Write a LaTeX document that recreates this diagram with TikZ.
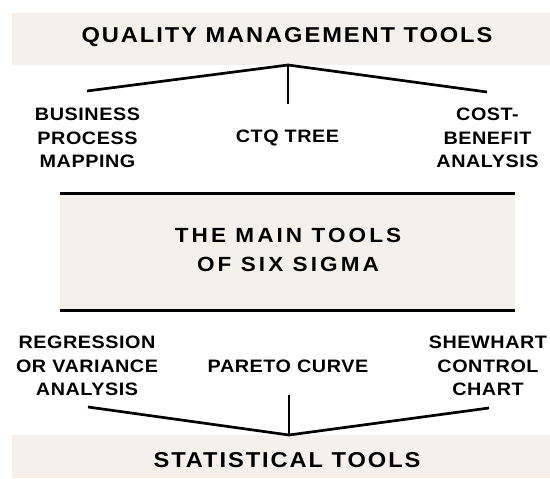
\documentclass[tikz,border=0pt]{standalone}
\usepackage{fontspec}
\newfontfamily\headfont{Liberation Sans}[FakeStretch=1.1,LetterSpace=9]
\newfontfamily\mainfont{Liberation Sans}[FakeStretch=1.1,LetterSpace=15]
\newfontfamily\toolfont{Liberation Sans}[FakeStretch=1.1,LetterSpace=3]
\definecolor{beige}{HTML}{F5F0EB}
\tikzset{
	band/.style={fill=beige},
	head/.style={font=\headfont\bfseries\fontsize{21.5}{26}\selectfont,inner sep=0pt},
	core/.style={font=\mainfont\bfseries\fontsize{20.5}{29}\selectfont,align=center,inner sep=0pt},
	tool/.style={font=\toolfont\bfseries\fontsize{18}{23.5}\selectfont,align=center,inner sep=0pt},
	branch/.style={line width=2.7pt}
}

\begin{document}
\begin{tikzpicture}[x=1pt,y=-1pt]
	\useasboundingbox (0,0) rectangle (550,479);
	% bands
	\fill[band] (12,13) rectangle (550,65);
	\fill[band] (60,193) rectangle (515,310);
	\fill[band] (12,435) rectangle (550,478);
	\draw[line width=3pt] (60,193) -- (515,193);
	\draw[line width=3pt] (60,310) -- (515,310);
	% headings
	\node [head] (qmt) at (287,37.5) {QUALITY MANAGEMENT TOOLS};
	\node [core] (main) at (288,250) {THE MAIN TOOLS\\OF SIX SIGMA};
	\node [head] (st) at (287,460) {STATISTICAL TOOLS};
	% upper tools
	\node [tool] (bpm) at (87.5,138) {BUSINESS\\PROCESS\\MAPPING};
	\node [tool] (ctq) at (287.5,138) {CTQ TREE};
	\node [tool] (cba) at (487.5,138) {COST-\\BENEFIT\\ANALYSIS};
	% lower tools
	\node [tool] (reg) at (87,366) {REGRESSION\\OR VARIANCE\\ANALYSIS};
	\node [tool] (par) at (288,366) {PARETO CURVE};
	\node [tool] (shc) at (488,366) {SHEWHART\\CONTROL\\CHART};
	% branches
	\coordinate (top) at (288,65);
	\coordinate (bpm end) at (87,91);
	\coordinate (cba end) at (487,92);
	\coordinate (ctq end) at (288,104);
	\draw[branch] (bpm end) -- (top) -- (cba end);
	\draw[branch] (top) -- (ctq end);
	\coordinate (bot) at (289,435);
	\coordinate (reg end) at (88,407);
	\coordinate (shc end) at (489,408);
	\coordinate (par end) at (289,395);
	\draw[branch] (reg end) -- (bot) -- (shc end);
	\draw[branch] (bot) -- (par end);
\end{tikzpicture}
\end{document}
